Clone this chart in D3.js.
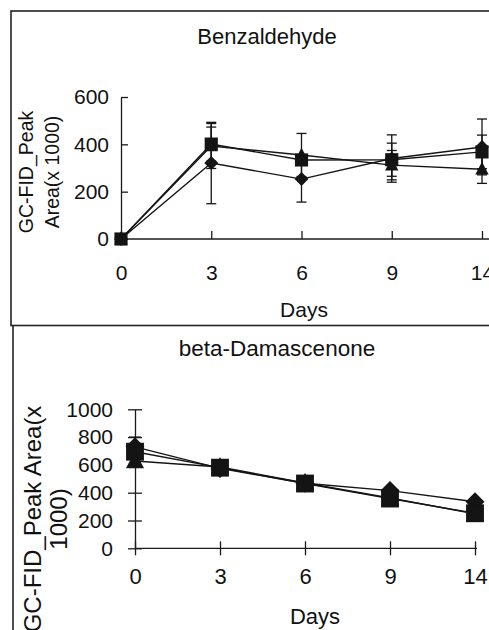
<!DOCTYPE html>
<html>
<head>
<meta charset="utf-8">
<script src="https://cdn.jsdelivr.net/npm/d3@7"></script>
<style>
  body { margin: 0; background: #fff; }
  svg { display: block; font-family: "Liberation Sans", Arial, sans-serif; }
  .axis path, .axis line { stroke: #1a1a1a; stroke-width: 1.3; }
  .axis text { fill: #111; }
  .serie { fill: none; stroke: #151515; stroke-width: 1.4; }
  .err { stroke: #151515; stroke-width: 1.3; }
  .marker { fill: #141414; }
</style>
</head>
<body>
<script>

//////////////////
// Data
//////////////////

var days = ["0", "3", "6", "9", "14"];

// Benzaldehyde (x 1000)
var benzDiamond    = [0, 321, 253, 340, 389];
var benzDiamondErr = [0, 172, 97, 100, 118];
var benzSquare     = [0, 401, 334, 335, 368];
var benzSquareErr  = [0, 72, 15, 70, 71];
var benzTriangle   = [0, 393, 355, 312, 295];
var benzTriangleErr = [0, 95, 91, 62, 60];
var benzTicks = [0, 200, 400, 600];

// beta-Damascenone (x 1000)
var damaDiamond    = [730, 575, 468, 415, 335];
var damaDiamondErr = [70, 15, 20, 15, 15];
var damaSquare     = [695, 580, 466, 358, 252];
var damaSquareErr  = [20, 15, 15, 15, 15];
var damaTriangle   = [628, 585, 470, 362, 248];
var damaTriangleErr = [20, 15, 15, 15, 15];
var damaTicks = [0, 200, 400, 600, 800, 1000];

var W = 489, H = 630;

var svg = d3.select("body").append("svg")
    .attr("width", W)
    .attr("height", H);

//////////////////
// Frames
//////////////////

svg.append("rect")
    .attr("x", 11).attr("y", 11)
    .attr("width", 500).attr("height", 314.5)
    .attr("fill", "none")
    .attr("stroke", "#222")
    .attr("stroke-width", 1.6);

svg.append("line")
    .attr("x1", 13).attr("x2", 13)
    .attr("y1", 326).attr("y2", H + 2)
    .attr("stroke", "#222")
    .attr("stroke-width", 1.6);

//////////////////
// Markers
//////////////////

function markerPath(shape, s) {
    var h = s / 2;
    if (shape === "diamond") {
        return "M0," + (-h) + "L" + h + ",0L0," + h + "L" + (-h) + ",0Z";
    }
    if (shape === "square") {
        var q = s * 0.47;
        return "M" + (-q) + "," + (-q) + "H" + q + "V" + q + "H" + (-q) + "Z";
    }
    // triangle
    return "M0," + (-h * 1.05) + "L" + (h * 0.95) + "," + (h * 0.75) + "L" + (-h * 0.95) + "," + (h * 0.75) + "Z";
}

/**
 * draws one panel with three series
 */
function drawPanel(cfg) {

    var g = svg.append("g");

    var x = d3.scalePoint().domain(days).range(cfg.xRange);
    var y = d3.scaleLinear().domain(cfg.yDomain).range(cfg.yRange);

    // title
    g.append("text")
        .attr("x", cfg.titleX).attr("y", cfg.titleY)
        .attr("text-anchor", "middle")
        .attr("font-size", cfg.titleSize)
        .attr("fill", "#111")
        .text(cfg.title);

    // y axis
    var yAxis = d3.axisLeft(y)
        .tickValues(cfg.ticks)
        .tickFormat(d3.format("d"))
        .tickSizeOuter(0)
        .tickSizeInner(cfg.cross ? 7 : -7)
        .tickPadding(cfg.yPad);

    var yg = g.append("g")
        .attr("class", "axis")
        .attr("transform", "translate(" + cfg.xRange[0] + ",0)")
        .call(yAxis);
    yg.selectAll("text").attr("font-size", cfg.yTickSize).attr("font-family", null);

    // x axis
    var xAxis = d3.axisBottom(x)
        .tickSizeOuter(0)
        .tickSizeInner(cfg.cross ? 7 : -8)
        .tickPadding(cfg.xPad);

    var xg = g.append("g")
        .attr("class", "axis")
        .attr("transform", "translate(0," + y(0) + ")")
        .call(xAxis);
    xg.selectAll("text").attr("font-size", cfg.xTickSize).attr("font-family", null);
    xg.select(".domain").attr("d", "M" + cfg.xRange[0] + ",0H" + cfg.axisEnd);

    if (cfg.cross) {
        yg.selectAll(".tick line").attr("x1", 7).attr("x2", -7);
        xg.selectAll(".tick line").attr("y1", -7).attr("y2", 7);
    }

    // axis titles
    g.append("text")
        .attr("x", cfg.daysX).attr("y", cfg.daysY)
        .attr("text-anchor", "middle")
        .attr("font-size", cfg.xTickSize)
        .attr("fill", "#111")
        .text("Days");

    cfg.yLabel.forEach(function(line, i) {
        g.append("text")
            .attr("transform", "translate(" + cfg.yLabelX[i] + "," + cfg.yLabelY + ") rotate(-90)")
            .attr("text-anchor", "middle")
            .attr("font-size", cfg.yLabelSize)
            .attr("fill", "#111")
            .text(line);
    });

    var line = d3.line()
        .x(function(d, i) { return x(days[i]); })
        .y(function(d) { return y(d); });

    // lines
    cfg.series.forEach(function(s) {
        g.append("path").attr("class", "serie").attr("d", line(s.values));
    });

    // error bars
    cfg.series.forEach(function(s) {
        s.values.forEach(function(v, i) {
            if (!s.err[i]) { return; }
            var cx = x(days[i]);
            var top = y(v + s.err[i]), bot = y(Math.max(0, v - s.err[i]));
            g.append("line").attr("class", "err")
                .attr("x1", cx).attr("x2", cx).attr("y1", top).attr("y2", bot);
            [top, bot].forEach(function(yy) {
                g.append("line").attr("class", "err")
                    .attr("x1", cx - cfg.cap).attr("x2", cx + cfg.cap)
                    .attr("y1", yy).attr("y2", yy);
            });
        });
    });

    // markers
    cfg.series.forEach(function(s) {
        g.selectAll(null)
            .data(s.values)
            .enter()
            .append("path")
                .attr("class", "marker")
                .attr("transform", function(d, i) { return "translate(" + x(days[i]) + "," + y(d) + ")"; })
                .attr("d", markerPath(s.shape, cfg.markerSize));
    });
}

drawPanel({
    title: "Benzaldehyde", titleX: 267, titleY: 44, titleSize: 22,
    xRange: [121, 482], axisEnd: 490,
    yDomain: [0, 600], yRange: [239, 97], ticks: benzTicks,
    cross: false, yPad: 12, xPad: 26,
    yTickSize: 21, xTickSize: 21,
    daysX: 304, daysY: 317,
    yLabel: ["GC-FID_Peak", "Area(x 1000)"], yLabelX: [33, 59], yLabelY: 172, yLabelSize: 19.5,
    markerSize: 14, cap: 5,
    series: [
        { shape: "diamond", values: benzDiamond, err: benzDiamondErr },
        { shape: "square", values: benzSquare, err: benzSquareErr },
        { shape: "triangle", values: benzTriangle, err: benzTriangleErr }
    ]
});

drawPanel({
    title: "beta-Damascenone", titleX: 277, titleY: 356, titleSize: 22.5,
    xRange: [135, 475], axisEnd: 477,
    yDomain: [0, 1000], yRange: [548.3, 409.3], ticks: damaTicks,
    cross: true, yPad: 15, xPad: 13,
    yTickSize: 21, xTickSize: 22,
    daysX: 315, daysY: 624,
    yLabel: ["GC-FID_Peak Area(x", "1000)"], yLabelX: [41, 67], yLabelY: 519, yLabelSize: 24,
    markerSize: 19, cap: 6,
    series: [
        { shape: "diamond", values: damaDiamond, err: damaDiamondErr },
        { shape: "square", values: damaSquare, err: damaSquareErr },
        { shape: "triangle", values: damaTriangle, err: damaTriangleErr }
    ]
});

</script>
</body>
</html>
